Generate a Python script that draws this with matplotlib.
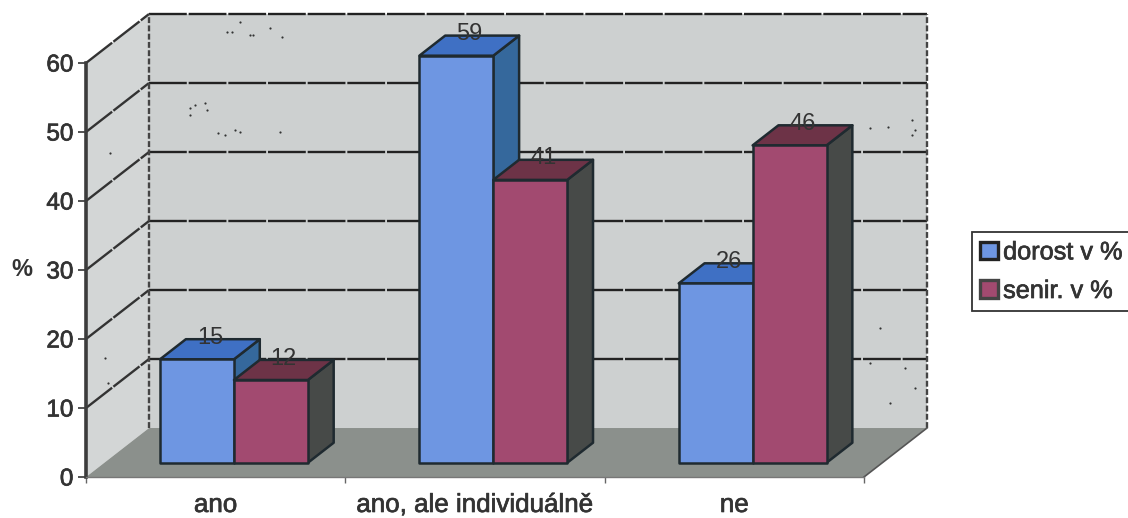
import matplotlib
matplotlib.use("Agg")
import matplotlib.pyplot as plt
import matplotlib.patheffects as pe
from matplotlib.patches import Patch, Polygon
from matplotlib.transforms import IdentityTransform

CATEGORIES = ["ano", "ano, ale individuálně", "ne"]
SERIES     = ["dorost v %", "senir. v %"]
DOROST     = [15, 59, 26]
SENIR      = [12, 41, 46]
Y_TICKS    = [0, 10, 20, 30, 40, 50, 60]

# dust on the walls, in pixels from the lower left corner
SPECK_X = [227, 232, 250, 253, 270, 282, 240, 190, 195, 205, 207, 190, 218, 225, 235, 240, 280, 870, 888, 912, 915, 912, 880, 905, 915, 890, 870, 110, 105, 108]
SPECK_Y = [486, 486, 483, 483, 490, 481, 496, 410, 413, 415, 408, 403, 385, 383, 388, 386, 386, 390, 391, 398, 388, 383, 190, 150, 130, 115, 155, 365, 160, 135]

# how far one unit of depth shifts a point, in axis units
DEPTH_X = 0.243
DEPTH_Y = 7.1
# bars stand between these two depths
BAR_FRONT = 0.29
BAR_BACK  = 0.70
BAR_WIDTH = 0.285

WALL_BACK = "#cdd0d0"
WALL_SIDE = "#d3d6d6"
FLOOR     = "#8b908c"
EDGE      = "#1f2a30"
INK       = "#333333"
# front, top and side face of each series
BLUE = ("#6e96e2", "#3f70c4", "#35689c")
RED  = ("#a24a70", "#6d3347", "#474a48")

HEAVY = [pe.withStroke(linewidth=0.5, foreground=INK)]

plt.rcParams["font.family"] = ["Liberation Sans", "DejaVu Sans"]

def project(x, y, depth):
	return x + depth * DEPTH_X, y + depth * DEPTH_Y

def face(ax, points, color, edge=None, lw=0, zorder=1):
	xy = [project(*p) for p in points]
	ax.add_patch(Polygon(xy, closed=True, facecolor=color, edgecolor=edge or color,
		linewidth=lw, joinstyle="round", clip_on=False, zorder=zorder))

def plot_walls(ax):
	top = Y_TICKS[-1]
	n   = len(CATEGORIES)
	face(ax, [(0, 0, 1), (n, 0, 1), (n, top, 1), (0, top, 1)], WALL_BACK)
	face(ax, [(0, 0, 0), (0, 0, 1), (0, top, 1), (0, top, 0)], WALL_SIDE)
	face(ax, [(0, 0, 0), (n, 0, 0), (n, 0, 1), (0, 0, 1)], FLOOR)

	for t in Y_TICKS[1:]:
		x0, y0 = project(0, t, 0)
		x1, y1 = project(0, t, 1)
		x2, y2 = project(n, t, 1)
		ax.plot([x0, x1], [y0, y1], color="#333333", lw=1.7, ls=(0, (14, 0.7)), clip_on=False, zorder=2)
		ax.plot([x1, x2], [y1, y2], color="#222222", lw=1.7, ls=(0, (16, 0.8)), clip_on=False, zorder=2)

	# back wall frame
	for x in (0, n):
		x1, y0 = project(x, 0, 1)
		_, y1  = project(x, top, 1)
		ax.plot([x1, x1], [y0, y1], color="#444444", lw=1.7, ls=(0, (2.5, 1)), clip_on=False, zorder=2)

	x2, y2 = project(n, 0, 1)
	ax.plot([n, x2], [0, y2], color="#555555", lw=1.2, clip_on=False, zorder=2)

def plot_bar(ax, left, value, colors, zorder):
	right = left + BAR_WIDTH
	front, top, side = colors
	kw = dict(edge=EDGE, lw=1.8, zorder=zorder)
	face(ax, [(right, 0, BAR_FRONT), (right, 0, BAR_BACK), (right, value, BAR_BACK), (right, value, BAR_FRONT)], side, **kw)
	face(ax, [(left, value, BAR_FRONT), (right, value, BAR_FRONT), (right, value, BAR_BACK), (left, value, BAR_BACK)], top, **kw)
	face(ax, [(left, 0, BAR_FRONT), (right, 0, BAR_FRONT), (right, value, BAR_FRONT), (left, value, BAR_FRONT)], front, **kw)

def plot_value(ax, left, value):
	x, _ = project(left + BAR_WIDTH / 2, value, (BAR_FRONT + BAR_BACK) / 2)
	_, y = project(left, value, BAR_BACK)
	ax.text(x, y + 0.2, str(value), ha="center", va="center", fontsize=17, color=INK, zorder=30, clip_on=False)

fig = plt.figure(figsize=(11.28, 5.18), dpi=100)
ax  = fig.add_axes([86 / 1128, 41 / 518, 778 / 1128, 414 / 518])
ax.set_xlim(0, len(CATEGORIES))
ax.set_ylim(0, Y_TICKS[-1])

plot_walls(ax)
ax.scatter(SPECK_X, SPECK_Y, s=2.5, color="#333333", linewidths=0, transform=IdentityTransform(), clip_on=False, zorder=2)

for i in range(len(CATEGORIES)):
	z    = 5 + i * 5
	left = i + (1 - 2 * BAR_WIDTH) / 2
	plot_bar(ax, left, DOROST[i], BLUE, z)
	plot_bar(ax, left + BAR_WIDTH, SENIR[i], RED, z + 1)
	plot_value(ax, left, DOROST[i])
	plot_value(ax, left + BAR_WIDTH, SENIR[i])

for s in ("top", "right"):
	ax.spines[s].set_visible(False)
ax.spines["left"].set_linewidth(2.6)
ax.spines["left"].set_color("#3c3c3c")
ax.spines["left"].set_zorder(3)
ax.spines["bottom"].set_linewidth(1.0)
ax.spines["bottom"].set_color("#777777")
ax.spines["bottom"].set_zorder(3)

ax.set_yticks(Y_TICKS)
ax.tick_params(axis="y", length=6, width=1.3, color="#444444", labelsize=17.5, labelcolor=INK, pad=3)
ax.set_xticks(range(len(CATEGORIES) + 1), [""] * (len(CATEGORIES) + 1))
ax.set_xticks([i + 0.5 for i in range(len(CATEGORIES))], CATEGORIES, minor=True)
ax.tick_params(axis="x", which="major", length=4.5, width=1.0, color="#666666")
ax.tick_params(axis="x", which="minor", length=0, labelsize=18.7, labelcolor=INK, pad=11.5)
ax.set_ylabel("%", rotation=0, fontsize=17, fontweight="bold", color=INK, ha="center", va="center")
ax.yaxis.set_label_coords(-64 / 778, 0.5)

for t in ax.get_yticklabels() + ax.get_xticklabels(minor=True):
	t.set_path_effects(HEAVY)

handles = [Patch(facecolor=BLUE[0], edgecolor="#222222", linewidth=2.4),
	Patch(facecolor=RED[0], edgecolor="#444444", linewidth=2.4)]
legend = fig.legend(handles, SERIES, loc="upper left", bbox_to_anchor=(972 / 1128, 1 - 232 / 518),
	bbox_transform=fig.transFigure, borderaxespad=0, fontsize=18.2, frameon=True, fancybox=False,
	edgecolor="#333333", facecolor="white", framealpha=1, handlelength=0.7, handleheight=0.7,
	handletextpad=0.2, labelspacing=0.58, borderpad=0.33, labelcolor=INK)
legend.get_frame().set_linewidth(1.3)
for t in legend.get_texts():
	t.set_path_effects(HEAVY)

plt.savefig("out.png", dpi=100)
